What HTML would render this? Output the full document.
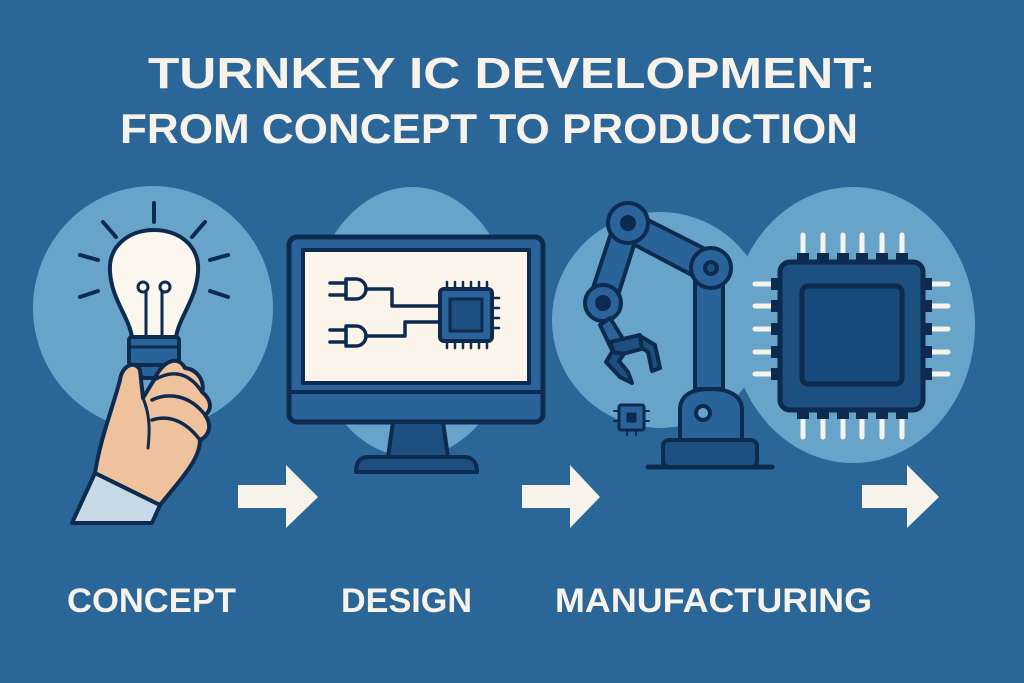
<!DOCTYPE html>
<html><head><meta charset="utf-8"><style>html,body{margin:0;padding:0;background:#2b6699;}svg{display:block}</style></head>
<body>
<svg width="1024" height="683" viewBox="0 0 1024 683" xmlns="http://www.w3.org/2000/svg">
<rect width="1024" height="683" fill="#2b6699"/>
<g font-family="Liberation Sans, sans-serif" font-weight="bold" fill="#f8f3ea">
<text x="148" y="88" font-size="44" textLength="728" lengthAdjust="spacingAndGlyphs">TURNKEY IC DEVELOPMENT:</text>
<text x="120" y="143" font-size="42" textLength="738" lengthAdjust="spacingAndGlyphs">FROM CONCEPT TO PRODUCTION</text>
<text x="67" y="612" font-size="34" textLength="169" lengthAdjust="spacingAndGlyphs">CONCEPT</text>
<text x="341" y="612" font-size="34" textLength="131" lengthAdjust="spacingAndGlyphs">DESIGN</text>
<text x="555" y="612" font-size="34" textLength="317" lengthAdjust="spacingAndGlyphs">MANUFACTURING</text>
</g>
<g fill="#68a4ca">
<ellipse cx="153" cy="308" rx="120" ry="122"/>
<ellipse cx="412" cy="322" rx="102" ry="135"/>
<circle cx="660" cy="320" r="108"/>
<ellipse cx="853" cy="325" rx="122" ry="138"/>
</g>
<g fill="#f8f3ea">
<polygon points="238,485 286,485 286,465 318,497 286,528 286,508 238,508"/>
<polygon points="522,485 570,485 570,465 600,497 570,528 570,508 522,508"/>
<polygon points="862,485 907,485 907,465 939,497 907,528 907,508 862,508"/>
</g>
<g stroke="#0d2a4f" stroke-width="4" stroke-linecap="round" stroke-linejoin="round">
<line x1="154" y1="203" x2="154" y2="222"/>
<line x1="103" y1="222" x2="116" y2="237"/>
<line x1="205" y1="222" x2="192" y2="237"/>
<line x1="80" y1="255" x2="98" y2="260"/>
<line x1="228" y1="255" x2="210" y2="260"/>
<line x1="80" y1="297" x2="98" y2="291"/>
<line x1="228" y1="297" x2="210" y2="291"/>
<path d="M132,337 C128,315 112,300 110,272 C108,245 130,230 154,230 C178,230 200,245 198,272 C196,300 180,315 176,337 Z" fill="#fbf7ef"/>
<path d="M146,337 L146,292 M162,337 L162,292" fill="none" stroke-width="3"/>
<circle cx="143" cy="287" r="5" fill="none" stroke-width="3"/>
<circle cx="165" cy="287" r="5" fill="none" stroke-width="3"/>
<rect x="129" y="337" width="50" height="28" rx="3" fill="#2a6399"/>
<line x1="129" y1="347" x2="179" y2="347" stroke-width="3"/>
<path d="M132,365 L176,365 L165,378 L143,378 Z" fill="#2a6399"/>
<path d="M95,473 L72,523 L152,523 L160,505 Z" fill="#c7d9e6"/>
<path d="M95,473 C100,440 112,410 120,380 C122,365 135,360 140,370 L143,398 L154,380 C163,360 178,355 185,368 C200,370 205,385 202,392 C212,400 212,410 205,415 C212,425 210,435 200,440 C200,460 180,480 160,505 Z" fill="#efc19c"/>
<path d="M154,380 C168,372 186,368 202,392 M152,400 C168,392 190,395 205,415 M152,420 C168,415 185,420 200,440" fill="none" stroke-width="3.5"/>
<path d="M143,398 C150,415 150,430 148,448" fill="none" stroke-width="3"/>
<rect x="289" y="237" width="254" height="185" rx="8" fill="#2a6399" stroke-width="5"/>
<rect x="303" y="250" width="226" height="133" fill="#fbf4ea" stroke-width="4"/>
<line x1="289" y1="392" x2="543" y2="392" stroke-width="4"/>
<path d="M393,422 L443,422 L448,457 L388,457 Z" fill="#1d4f80"/>
<path d="M368,457 L464,457 C472,457 477,462 477,472 L356,472 C356,462 360,457 368,457 Z" fill="#1d4f80"/>
<g fill="none" stroke-width="3.5">
<path d="M346,279 L356,279 A10,10 0 0 1 356,299 L346,299 Z"/>
<path d="M330,283 L346,283 M330,295 L346,295 M366,289 L392,289 L392,306 L440,306"/>
<path d="M346,326 L356,326 A10,10 0 0 1 356,346 L346,346 Z"/>
<path d="M330,330 L346,330 M330,342 L346,342 M366,336 L405,336 L405,322 L440,322"/>
</g>
<rect x="440" y="289" width="52" height="52" rx="4" fill="#2a6399"/>
<rect x="450" y="299" width="32" height="32" fill="#1d4f80" stroke-width="3"/>
<g stroke-width="2.5">
<path d="M447,289 v-7 M455,289 v-7 M463,289 v-7 M471,289 v-7 M479,289 v-7 M487,289 v-7"/>
<path d="M447,341 v7 M455,341 v7 M463,341 v7 M471,341 v7 M479,341 v7 M487,341 v7"/>
<path d="M492,298 h7 M492,308 h7 M492,318 h7 M492,328 h7"/>
</g>
<line x1="648" y1="467" x2="772" y2="467" stroke-width="5"/>
<rect x="663" y="440" width="94" height="27" rx="6" fill="#1d4f80"/>
<path d="M680,440 L680,410 C680,395 692,389 710,389 C728,389 742,395 742,410 L742,440 Z" fill="#2a6399"/>
<circle cx="703" cy="413" r="7" fill="#68a4ca"/>
<rect x="695" y="270" width="28" height="119" fill="#2a6399"/>
<path d="M628,210 L717,255 L705,282 L618,236 Z" fill="#2a6399"/>
<path d="M616,218 L640,226 L615,305 L590,297 Z" fill="#2a6399"/>
<circle cx="711" cy="268" r="20" fill="#2a6399"/>
<circle cx="711" cy="268" r="6" fill="#1d4f80"/>
<circle cx="628" cy="223" r="20" fill="#2a6399"/>
<circle cx="628" cy="223" r="6" fill="#0d2a4f"/>
<circle cx="603" cy="303" r="18" fill="#2a6399"/>
<circle cx="603" cy="303" r="6" fill="#0d2a4f"/>
<path d="M610,318 L625,342 L612,350 L600,325 Z" fill="#2a6399"/>
<path d="M610,342 L640,335 L645,348 L615,356 Z" fill="#1d4f80"/>
<path d="M612,352 L606,362 L620,377 L632,383 L628,372 L619,361 L624,354 Z" fill="#1d4f80"/>
<path d="M640,336 L655,345 L660,368 L652,371 L648,352 L642,348 Z" fill="#1d4f80"/>
<rect x="619" y="405" width="25" height="25" rx="2" fill="#2a6399" stroke-width="3"/>
<rect x="627" y="413" width="9" height="9" fill="#0d2a4f" stroke-width="1"/>
<g stroke-width="2"><path d="M614,411 h5 M614,421 h5 M644,411 h5 M644,421 h5 M627,430 v5 M636,430 v5"/></g>
</g>
<g stroke-linecap="round">
<g stroke="#f8f3ea" stroke-width="5">
<path d="M803,235 v25 M823,235 v25 M843,235 v25 M862,235 v25 M882,235 v25 M902,235 v25"/>
<path d="M803,412 v25 M823,412 v25 M843,412 v25 M862,412 v25 M882,412 v25 M902,412 v25"/>
<path d="M755,284 h25 M755,306 h25 M755,329 h25 M755,352 h25 M755,374 h25"/>
<path d="M923,284 h25 M923,306 h25 M923,329 h25 M923,352 h25 M923,374 h25"/>
</g>
<g fill="#0d2a4f">
<rect x="797" y="253" width="12" height="12"/><rect x="817" y="253" width="12" height="12"/><rect x="837" y="253" width="12" height="12"/><rect x="856" y="253" width="12" height="12"/><rect x="876" y="253" width="12" height="12"/><rect x="896" y="253" width="12" height="12"/>
<rect x="797" y="407" width="12" height="12"/><rect x="817" y="407" width="12" height="12"/><rect x="837" y="407" width="12" height="12"/><rect x="856" y="407" width="12" height="12"/><rect x="876" y="407" width="12" height="12"/><rect x="896" y="407" width="12" height="12"/>
<rect x="771" y="278" width="12" height="12"/><rect x="771" y="300" width="12" height="12"/><rect x="771" y="323" width="12" height="12"/><rect x="771" y="346" width="12" height="12"/><rect x="771" y="368" width="12" height="12"/>
<rect x="920" y="278" width="12" height="12"/><rect x="920" y="300" width="12" height="12"/><rect x="920" y="323" width="12" height="12"/><rect x="920" y="346" width="12" height="12"/><rect x="920" y="368" width="12" height="12"/>
</g>
<rect x="780" y="262" width="143" height="148" rx="10" fill="#1d4f80" stroke="#0d2a4f" stroke-width="5"/>
<rect x="802" y="286" width="100" height="98" rx="6" fill="#174a7c" stroke="#0d2a4f" stroke-width="5"/>
</g>
</svg>
</body></html>
